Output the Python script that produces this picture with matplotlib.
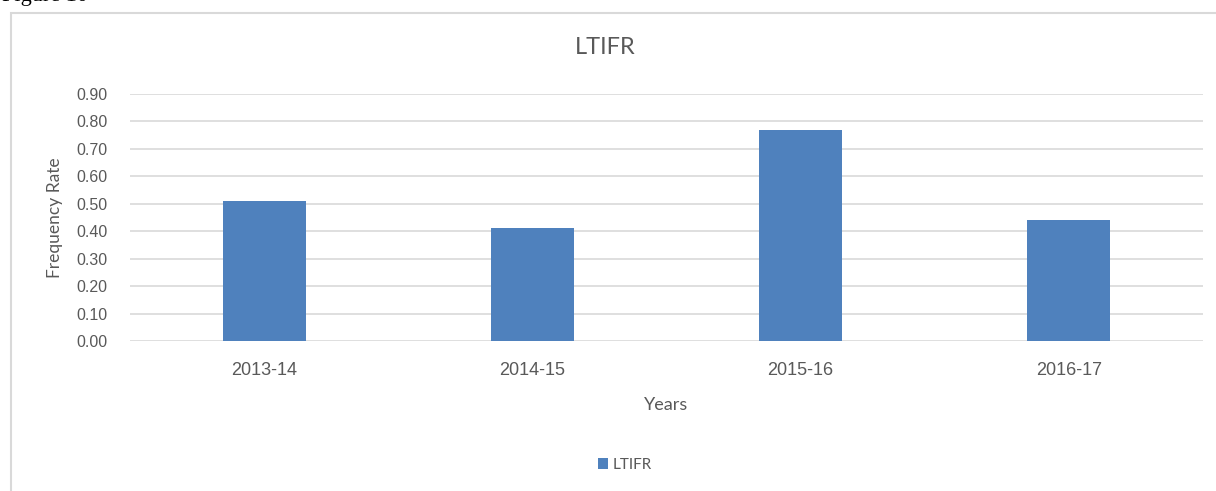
import matplotlib
matplotlib.use("Agg")
import matplotlib.pyplot as plt
from matplotlib.patches import Rectangle
import numpy as np

years = ["2013-14", "2014-15", "2015-16", "2016-17"]
ltifr = [0.51, 0.41, 0.77, 0.44]
yticks = [0.0, 0.1, 0.2, 0.3, 0.4, 0.5, 0.6, 0.7, 0.8, 0.9]

BAR = "#4f81bd"
TXT = "#595959"
GRID = "#d9d9d9"

fig = plt.figure(figsize=(12.16, 4.91), dpi=100)
W, H = 1216, 491

# outer chart frame (cut off at right and bottom)
fig.patches.append(Rectangle((11 / W, -0.1), 1.2, 1 - 13 / H + 0.1,
                             transform=fig.transFigure, fill=False,
                             edgecolor="#d9d9d9", linewidth=1.5))
fig.text(2 / W, 1 + 4 / H, "Figure 10", family="Liberation Serif",
         fontsize=16, va="center", ha="left", color="black")

ax = fig.add_axes([130 / W, 1 - 341 / H, (1203 - 130) / W, (341 - 94) / H])
x = np.arange(len(years))
ax.bar(x, ltifr, width=0.31, color=BAR, label="LTIFR", zorder=3)

ax.set_xlim(-0.5, 3.5)
ax.set_ylim(0, 0.9)
ax.set_yticks(yticks)
ax.set_yticklabels([f"{v:.2f}" for v in yticks], family="Liberation Sans",
                   fontsize=11.5, color=TXT)
ax.set_xticks(x)
ax.set_xticklabels(years, family="Liberation Sans", fontsize=13, color=TXT)
ax.tick_params(axis="both", length=0)
ax.tick_params(axis="y", pad=16)
ax.tick_params(axis="x", pad=15)
ax.grid(axis="y", color=GRID, linewidth=1.2, zorder=0)
for s in ax.spines.values():
    s.set_visible(False)

ax.set_ylabel("Frequency Rate", family="Lato", fontsize=12.5, color=TXT, labelpad=10)
ax.set_xlabel("Years", family="Lato", fontsize=13, color=TXT, labelpad=13)

fig.text(605 / W, 1 - 48 / H, "LTIFR", family="Lato", fontsize=17, color=TXT,
         ha="center", va="center")

fig.legend(loc="center", bbox_to_anchor=(625 / W, 1 - 465 / H), frameon=False,
           prop={"family": "Lato", "size": 11}, labelcolor=TXT,
           handlelength=0.7, handleheight=0.7, handletextpad=0.3)

fig.savefig("out.png", dpi=100)
